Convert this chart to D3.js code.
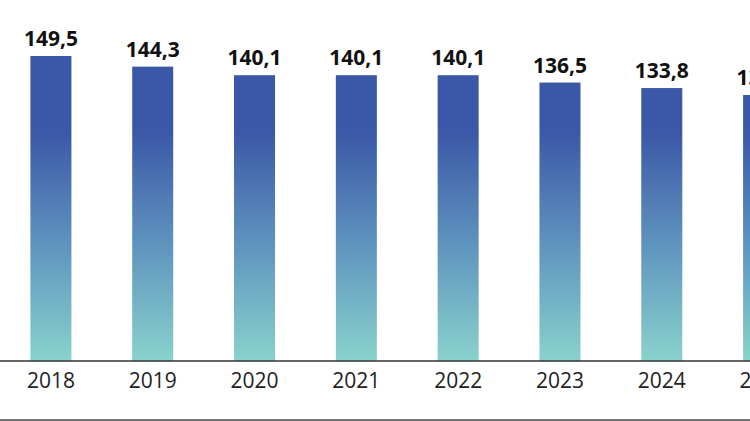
<!DOCTYPE html>
<html>
<head>
<meta charset="utf-8">
<script src="https://cdn.jsdelivr.net/npm/d3@7"></script>
<style>
  body { margin: 0; background: #fff; }
  svg { display: block; }
</style>
</head>
<body>
<div id="chart"></div>
<script>
var years = ["2018", "2019", "2020", "2021", "2022", "2023", "2024", "2025"];
var values = [149.5, 144.3, 140.1, 140.1, 140.1, 136.5, 133.8, 130.4];
var labels = ["149,5", "144,3", "140,1", "140,1", "140,1", "136,5", "133,8", "130,4"];

var W = 750, H = 421;
var svg = d3.select("#chart").append("svg")
  .attr("width", W)
  .attr("height", H);

var x = d3.scaleBand()
  .domain(years)
  .range([0, 814.5])
  .paddingInner(0.597)
  .paddingOuter(0.2985);

var y = d3.scaleLinear()
  .domain([0, 150])
  .range([361, 55]);

var grad = svg.append("defs").append("linearGradient")
  .attr("id", "barGrad")
  .attr("gradientUnits", "userSpaceOnUse")
  .attr("x1", 0).attr("x2", 0)
  .attr("y1", 130).attr("y2", 361);
grad.append("stop").attr("offset", 0).attr("stop-color", "#3b57a7");
grad.append("stop").attr("offset", 0.5).attr("stop-color", "#5f94be");
grad.append("stop").attr("offset", 1).attr("stop-color", "#89d2cc");

svg.selectAll("rect.bar")
  .data(values)
  .enter().append("rect")
    .attr("class", "bar")
    .attr("x", function(d, i) { return x(years[i]); })
    .attr("width", x.bandwidth())
    .attr("y", function(d) { return y(d); })
    .attr("height", function(d) { return y(0) - y(d); })
    .attr("fill", "url(#barGrad)");

svg.selectAll("text.val")
  .data(values)
  .enter().append("text")
    .attr("class", "val")
    .attr("x", function(d, i) { return x(years[i]) + x.bandwidth() / 2; })
    .attr("y", function(d) { return y(d) - 10; })
    .attr("text-anchor", "middle")
    .style("font-family", "Open Sans, sans-serif")
    .style("font-weight", "bold")
    .style("font-size", "21px")
    .attr("fill", "#111")
    .text(function(d, i) { return labels[i]; });

var axis = svg.append("g")
  .attr("transform", "translate(0," + y(0) + ")")
  .call(d3.axisBottom(x).tickSize(0).tickPadding(12));
axis.select(".domain").remove();
axis.selectAll("text")
  .style("font-family", "Open Sans, sans-serif")
  .style("font-size", "21px")
  .attr("fill", "#222");

svg.append("line")
  .attr("x1", 0).attr("x2", W)
  .attr("y1", y(0)).attr("y2", y(0))
  .attr("stroke", "#333")
  .attr("stroke-width", 1.5);

svg.append("line")
  .attr("x1", 0).attr("x2", W)
  .attr("y1", 420).attr("y2", 420)
  .attr("stroke", "#444")
  .attr("stroke-width", 1.5);
</script>
</body>
</html>
